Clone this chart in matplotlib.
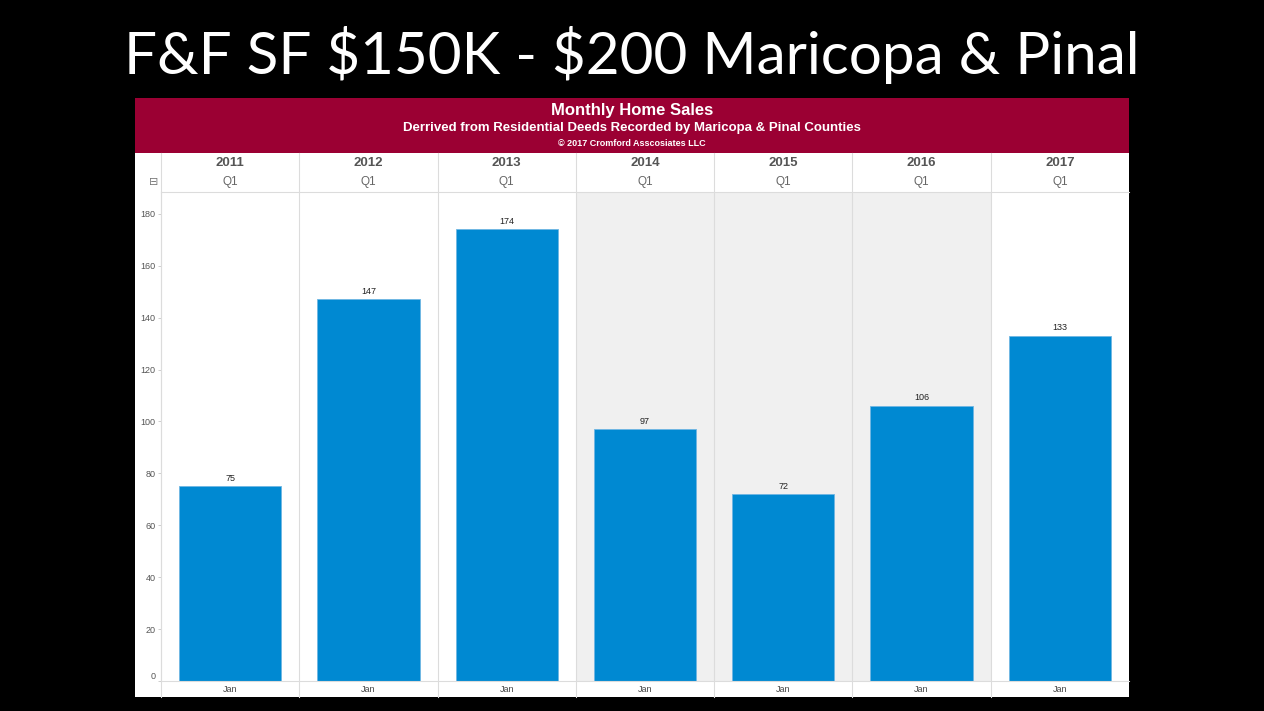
"""
Monthly home sales chart, Q1 January by year
"""
import matplotlib.pyplot as plt
from matplotlib.patches import Rectangle
import matplotlib.transforms as mtrans

years = ["2011", "2012", "2013", "2014", "2015", "2016", "2017"]
quarter = "Q1"
month = "Jan"
sales = [75, 147, 174, 97, 72, 106, 133]
shaded_years = ["2014", "2015", "2016"]
y_ticks = [0, 20, 40, 60, 80, 100, 120, 140, 160, 180]

W, H = 1264, 711
BAR_BLUE = "#0089D2"
HEADER_RED = "#9B0033"
GRID = "#dcdcdc"

def fx(px):
    return px / W

def fy(py):
    return 1 - py / H

fig = plt.figure(figsize=(12.64, 7.11), dpi=100, facecolor="black")

# slide title
fig.text(0.5, fy(55), r"F&F SF \$150K - \$200 Maricopa & Pinal", color="white",
         fontsize=42, family="Lato", ha="center", va="center")

# white panel + red header band
fig.patches.append(Rectangle((fx(135), fy(697)), fx(1129) - fx(135), fy(98) - fy(697),
                             transform=fig.transFigure, facecolor="white", edgecolor="none", zorder=-2))
fig.patches.append(Rectangle((fx(135), fy(153)), fx(1129) - fx(135), fy(98) - fy(153),
                             transform=fig.transFigure, facecolor=HEADER_RED, edgecolor="none", zorder=-1))
fig.text(fx(632), fy(111), "Monthly Home Sales", color="white", fontsize=12, weight="bold",
         family="Liberation Sans", ha="center", va="center")
fig.text(fx(632), fy(128), "Derrived from Residential Deeds Recorded by Maricopa & Pinal Counties",
         color="white", fontsize=9.5, weight="bold", family="Liberation Sans", ha="center", va="center")
fig.text(fx(632), fy(144), "\u00a9 2017 Cromford Asscosiates LLC", color="white", fontsize=6.5,
         weight="bold", family="Liberation Sans", ha="center", va="center")

# plot area
ax = fig.add_axes([fx(161), fy(681), fx(1129) - fx(161), fy(192) - fy(681)])
ax.set_zorder(5)
ax.set_facecolor("none")
ax.set_xlim(-0.5, len(years) - 0.5)
ax.set_ylim(0, 188.4)

x = list(range(len(years)))
for i, yr in enumerate(years):
    if yr in shaded_years:
        ax.axvspan(i - 0.5, i + 0.5, color="#f0f0f0", zorder=0, lw=0)

ax.bar(x, sales, width=0.74, color=BAR_BLUE, edgecolor="#6fb6e3", linewidth=0.6, zorder=2)
for i, v in enumerate(sales):
    ax.text(i, v + 1.3, str(v), ha="center", va="bottom", fontsize=6.5,
            family="Liberation Sans", color="#222222")

ax.set_yticks(y_ticks)
ax.set_yticklabels([str(t) for t in y_ticks], fontsize=6.5, color="#555555", family="Liberation Sans")
ax.get_yticklabels()[0].set_verticalalignment("bottom")
ax.tick_params(axis="y", length=2, width=0.5, color="#bbbbbb", pad=2)
ax.set_xticks([])
for s in ["top", "right"]:
    ax.spines[s].set_visible(False)
ax.spines["left"].set_color(GRID)
ax.spines["bottom"].set_color(GRID)
ax.spines["left"].set_linewidth(0.8)
ax.spines["bottom"].set_linewidth(0.8)

# column headers, separators and month row
trans = mtrans.blended_transform_factory(ax.transData, fig.transFigure)
for i, yr in enumerate(years):
    ax.text(i, fy(163.5), yr, transform=trans, ha="center", va="center", fontsize=9.5,
            weight="bold", color="#555555", family="Liberation Sans")
    ax.text(i, fy(182), quarter, transform=trans, ha="center", va="center", fontsize=8.5,
            color="#666666", family="Liberation Sans")
    ax.text(i, fy(689), month, transform=trans, ha="center", va="center", fontsize=6.5,
            color="#444444", family="Liberation Sans")
for b in range(len(years) - 1):
    ax.plot([b + 0.5, b + 0.5], [fy(697), fy(153)], transform=trans, color=GRID,
            lw=0.8, clip_on=False, zorder=1)
ax.plot([-0.5, -0.5], [fy(697), fy(153)], transform=trans, color=GRID, lw=0.8, clip_on=False)
ax.plot([-0.5, len(years) - 0.5], [fy(192), fy(192)], transform=trans, color=GRID,
        lw=0.8, clip_on=False)

# collapse icon
fig.text(fx(154), fy(182), "\u229f", color="#777777", fontsize=8, family="DejaVu Sans",
         ha="center", va="center")

fig.savefig("out.png", dpi=100, facecolor="black")
